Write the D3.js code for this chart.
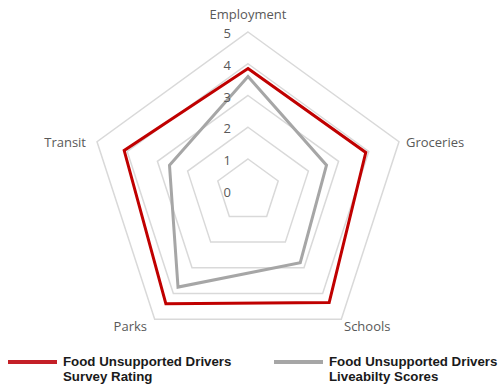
<!DOCTYPE html>
<html>
<head>
<meta charset="utf-8">
<script src="https://cdn.jsdelivr.net/npm/d3@7"></script>
<style>
  body { margin: 0; background: #fff; }
  svg text { font-family: "Open Sans", "Liberation Sans", sans-serif; }
</style>
</head>
<body>
<svg id="chart" width="498" height="385"></svg>
<script>
// axes of the radar, clockwise from the top
var axes = ["Employment", "Groceries", "Schools", "Parks", "Transit"];
var ticks = [0, 1, 2, 3, 4, 5];
var surveyRating = [3.85, 3.9, 4.35, 4.4, 4.1];
var liveabilityScores = [3.6, 2.6, 2.8, 3.75, 2.6];
var seriesNames = [
    ["Food Unsupported Drivers", "Survey Rating"],
    ["Food Unsupported Drivers", "Liveabilty Scores"]
];

var svg = d3.select("#chart");
var cx = 248, cy = 190.75;

var r = d3.scaleLinear().domain([0, 5]).range([0, 158.75]);
var angle = d3.scalePoint().domain(axes.concat(["_end"])).range([0, 2 * Math.PI]);

function pt(axis, v) {
    var a = angle(axis);
    return [Math.sin(a) * r(v), -Math.cos(a) * r(v)];
}

var g = svg.append("g").attr("transform", "translate(" + cx + "," + cy + ")");

// grid rings (no ring at 0)
var ring = d3.line().curve(d3.curveLinearClosed);
g.selectAll(".ring")
    .data(ticks.filter(function(t) { return t > 0; }))
    .enter().append("path")
    .attr("class", "ring")
    .attr("d", function(t) { return ring(axes.map(function(a) { return pt(a, t); })); })
    .attr("fill", "none")
    .attr("stroke", "#d9d9d9")
    .attr("stroke-width", 1.5);

// series
var series = [
    { values: liveabilityScores, color: "#a6a6a6" },
    { values: surveyRating, color: "#c00000" }
];
g.selectAll(".series")
    .data(series)
    .enter().append("path")
    .attr("class", "series")
    .attr("d", function(s) { return ring(axes.map(function(a, i) { return pt(a, s.values[i]); })); })
    .attr("fill", "none")
    .attr("stroke", function(s) { return s.color; })
    .attr("stroke-width", 3)
    .attr("stroke-linejoin", "miter");

// tick labels along the top axis
g.selectAll(".tick")
    .data(ticks)
    .enter().append("text")
    .attr("class", "tick")
    .attr("x", -17)
    .attr("y", function(t) { return -r(t) + 6; })
    .attr("text-anchor", "end")
    .attr("font-size", 13)
    .attr("fill", "#595959")
    .text(function(t) { return t; });

// axis labels
var labelPos = {
    Employment: { dx: 0, dy: -172, anchor: "middle" },
    Groceries: { dx: 158, dy: -44, anchor: "start" },
    Schools: { dx: 96, dy: 140, anchor: "start" },
    Parks: { dx: -101, dy: 140, anchor: "end" },
    Transit: { dx: -162, dy: -44, anchor: "end" }
};
g.selectAll(".axisLabel")
    .data(axes)
    .enter().append("text")
    .attr("class", "axisLabel")
    .attr("x", function(a) { return labelPos[a].dx; })
    .attr("y", function(a) { return labelPos[a].dy; })
    .attr("text-anchor", function(a) { return labelPos[a].anchor; })
    .attr("font-size", 13)
    .attr("fill", "#595959")
    .text(function(a) { return a; });

// legend
var legendColors = ["#c42027", "#a6a6a6"];
var legend = svg.selectAll(".legend")
    .data(seriesNames)
    .enter().append("g")
    .attr("class", "legend")
    .attr("transform", function(d, i) { return "translate(" + (8 + i * 266) + ",362)"; });
legend.append("line")
    .attr("x1", 0).attr("x2", 49)
    .attr("y1", 0).attr("y2", 0)
    .attr("stroke", function(d, i) { return legendColors[i]; })
    .attr("stroke-width", 4);
legend.append("text")
    .attr("x", 55)
    .attr("y", 4)
    .attr("font-size", 13.3)
    .attr("font-weight", "bold")
    .attr("fill", "#1a1a1a")
    .style("font-family", "'Liberation Sans', Arial, sans-serif")
    .selectAll("tspan")
    .data(function(d) { return d; })
    .enter().append("tspan")
    .attr("x", 55)
    .attr("dy", function(d, i) { return i ? 15 : 0; })
    .text(function(d) { return d; });
</script>
</body>
</html>
